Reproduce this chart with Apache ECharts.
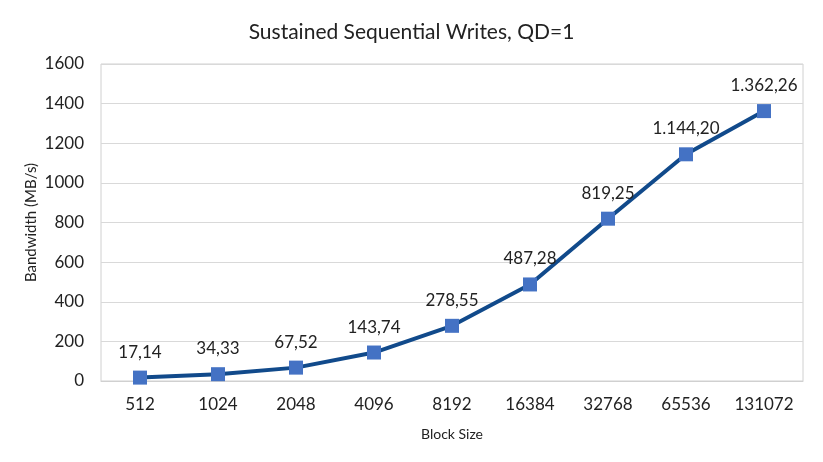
<!DOCTYPE html>
<html>
<head>
<meta charset="utf-8">
<script src="https://cdn.jsdelivr.net/npm/echarts@6/dist/echarts.min.js"></script>
<style>
  html, body { margin: 0; padding: 0; background: #fff; }
  #chart { width: 823px; height: 462px; }
</style>
</head>
<body>
<div id="chart"></div>
<script>
// block sizes on the x axis
var blockSizes = ['512', '1024', '2048', '4096', '8192', '16384', '32768', '65536', '131072'];
// bandwidth in MB/s
var bandwidth = [17.14, 34.33, 67.52, 143.74, 278.55, 487.28, 819.25, 1144.20, 1362.26];

// european style: 1.144,20
function fmt(v) {
    var parts = v.toFixed(2).split('.');
    var intPart = parts[0].replace(/\B(?=(\d{3})+(?!\d))/g, '.');
    return intPart + ',' + parts[1];
}

var font = 'Lato, "Open Sans", sans-serif';
var chart = echarts.init(document.getElementById('chart'));

var option = {
    backgroundColor: '#fff',
    textStyle: { fontFamily: font },
    title: {
        text: 'Sustained Sequential Writes, QD=1',
        left: 'center',
        top: 17,
        textStyle: { fontFamily: font, fontSize: 21, fontWeight: 'normal', color: '#222' }
    },
    grid: {
        left: 101,
        right: 20,
        top: 64,
        bottom: 81,
        show: true,
        borderColor: '#d0d0d0',
        borderWidth: 1
    },
    xAxis: {
        type: 'category',
        data: blockSizes,
        name: 'Block Size',
        nameLocation: 'middle',
        nameGap: 46,
        nameMoveOverlap: false,
        nameTextStyle: { fontFamily: font, fontSize: 14, color: '#222' },
        axisLine: { lineStyle: { color: '#d0d0d0' } },
        axisTick: { show: false },
        axisLabel: { fontFamily: font, fontSize: 17, color: '#222', margin: 15 }
    },
    yAxis: {
        type: 'value',
        min: 0,
        max: 1600,
        interval: 200,
        name: 'Bandwidth (MB/s)',
        nameLocation: 'middle',
        nameGap: 62,
        nameMoveOverlap: false,
        nameTextStyle: { fontFamily: font, fontSize: 15, color: '#222' },
        axisLine: { show: false },
        axisTick: { show: false },
        splitLine: { lineStyle: { color: '#d9d9d9' } },
        axisLabel: {
            fontFamily: font, fontSize: 17, color: '#222', margin: 17,
            formatter: function (v) { return String(v); }
        }
    },
    series: [{
        type: 'line',
        data: bandwidth,
        symbol: 'rect',
        symbolSize: 14,
        lineStyle: { color: '#114a8b', width: 4 },
        itemStyle: { color: '#4472c4' },
        label: {
            show: true,
            position: 'top',
            distance: 10,
            fontFamily: font,
            fontSize: 17,
            color: '#222',
            formatter: function (p) { return fmt(p.value); }
        },
        animation: false
    }]
};

chart.setOption(option);
</script>
</body>
</html>
